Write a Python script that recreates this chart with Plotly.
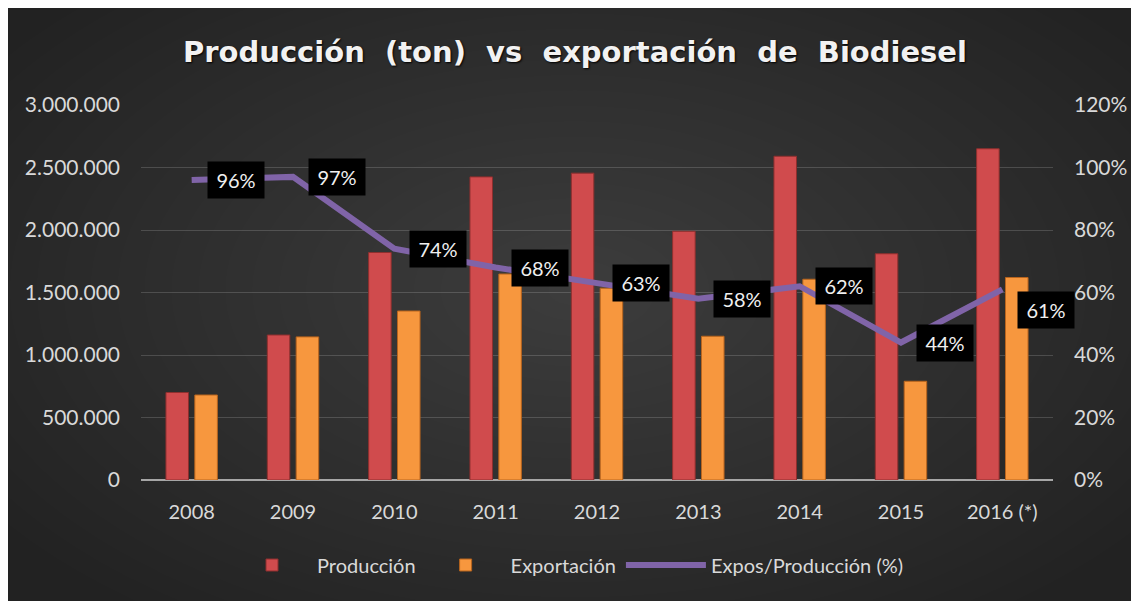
import plotly.graph_objects as go

years = ["2008", "2009", "2010", "2011", "2012", "2013", "2014", "2015", "2016 (*)"]
produccion = [700000, 1160000, 1820000, 2425000, 2455000, 1990000, 2590000, 1810000, 2650000]
exportacion = [680000, 1145000, 1352000, 1648000, 1535000, 1150000, 1606000, 790000, 1620000]
ratio = [0.96, 0.97, 0.74, 0.68, 0.63, 0.58, 0.62, 0.44, 0.61]
ratio_labels = ["96%", "97%", "74%", "68%", "63%", "58%", "62%", "44%", "61%"]

# page has an 8px body margin, so the figure is drawn 8px right/down
OFF = 8
W, H = 1139 - OFF, 601 - OFF
ML, MR, MT, MB = 141 - OFF, 86, 105 - OFF, 121
PW, PH = W - ML - MR, H - MT - MB

FONT = "Lato"
TXT = "#d9d9d9"

fig = go.Figure()
fig.add_trace(go.Bar(x=years, y=produccion, name="Producción",
                     marker=dict(color="#d04b4d", line=dict(color="#8e2f2e", width=1))))
fig.add_trace(go.Bar(x=years, y=exportacion, name="Exportación",
                     marker=dict(color="#f7973e", line=dict(color="#b8641d", width=1))))
fig.add_trace(go.Scatter(x=years, y=ratio, name="Expos/Producción (%)", yaxis="y2",
                         mode="lines", line=dict(color="#8064a8", width=6)))


def px_to_paper_x(px):
    return (px - OFF - ML) / PW


def px_to_paper_y(py):
    return (H - MB - (py - OFF)) / PH


shapes = []
shapes.append(dict(type="rect", xref="paper", yref="paper", layer="below",
                   x0=px_to_paper_x(0), x1=px_to_paper_x(1150),
                   y0=px_to_paper_y(620), y1=px_to_paper_y(0),
                   fillcolor="#222222", line=dict(width=0)))
cx, cy = 575, 290
N = 26
for i in range(N):
    f = (i + 1) / N
    rx, ry = 700 * f, 400 * f
    shapes.append(dict(type="circle", xref="paper", yref="paper", layer="below",
                       x0=px_to_paper_x(cx - rx), x1=px_to_paper_x(cx + rx),
                       y0=px_to_paper_y(cy + ry), y1=px_to_paper_y(cy - ry),
                       fillcolor="rgba(255,255,255,0.0075)", line=dict(width=0)))

annotations = []
for i, (yr, r, lab) in enumerate(zip(years, ratio, ratio_labels)):
    annotations.append(dict(x=i, y=r, xref="x", yref="y2", text=lab,
                            showarrow=False, xanchor="left", yanchor="middle",
                            xshift=15, yshift=-21 if i == len(years) - 1 else 0,
                            bgcolor="#000000", borderpad=7, width=42, height=22,
                            font=dict(family=FONT, size=20, color="#f0f0f0")))

title_text = "\u00a0\u00a0".join(["Producción", "(ton)", "vs", "exportación", "de", "Biodiesel"])

fig.update_layout(
    width=W, height=H,
    margin=dict(l=ML, r=MR, t=MT, b=MB, autoexpand=False),
    paper_bgcolor="#222222",
    plot_bgcolor="rgba(0,0,0,0)",
    separators=",.",
    barmode="group", bargap=0.43, bargroupgap=0.22,
    showlegend=True,
    hovermode=False,
    title=dict(text="<b>" + title_text + "</b>",
               x=(575 - OFF) / W, xref="container", xanchor="center",
               y=1 - (52 - OFF) / H, yref="container", yanchor="middle",
               font=dict(family="DejaVu Sans", size=29, color="#f2f2f2",
                         shadow="1px 1px 2px #000000")),
    xaxis=dict(type="category", categoryorder="array", categoryarray=years,
               range=[-0.5, len(years) - 0.5], autorange=False,
               showgrid=False, showline=False, zeroline=False,
               ticks="", ticklabelstandoff=18,
               tickfont=dict(family=FONT, size=20, color=TXT)),
    yaxis=dict(range=[0, 3000000], dtick=500000, tickformat=",d",
               showgrid=True, gridcolor="rgba(255,255,255,0.16)", gridwidth=1,
               zeroline=True, zerolinecolor="#a6a6a6", zerolinewidth=2,
               showline=False, ticks="", ticklabelstandoff=20,
               tickfont=dict(family=FONT, size=21, color=TXT)),
    yaxis2=dict(range=[0, 1.2], dtick=0.2, tickformat=".0%", overlaying="y",
                side="right", showgrid=False, zeroline=False, showline=False,
                ticks="", ticklabelstandoff=20,
                tickfont=dict(family=FONT, size=21, color=TXT)),
    legend=dict(orientation="h", x=px_to_paper_x(568), xanchor="center",
                y=px_to_paper_y(565), yanchor="middle",
                font=dict(family=FONT, size=20, color=TXT),
                bgcolor="rgba(0,0,0,0)", itemwidth=80, tracegroupgap=0),
    shapes=shapes,
    annotations=annotations,
)

fig.write_html("out.html")
